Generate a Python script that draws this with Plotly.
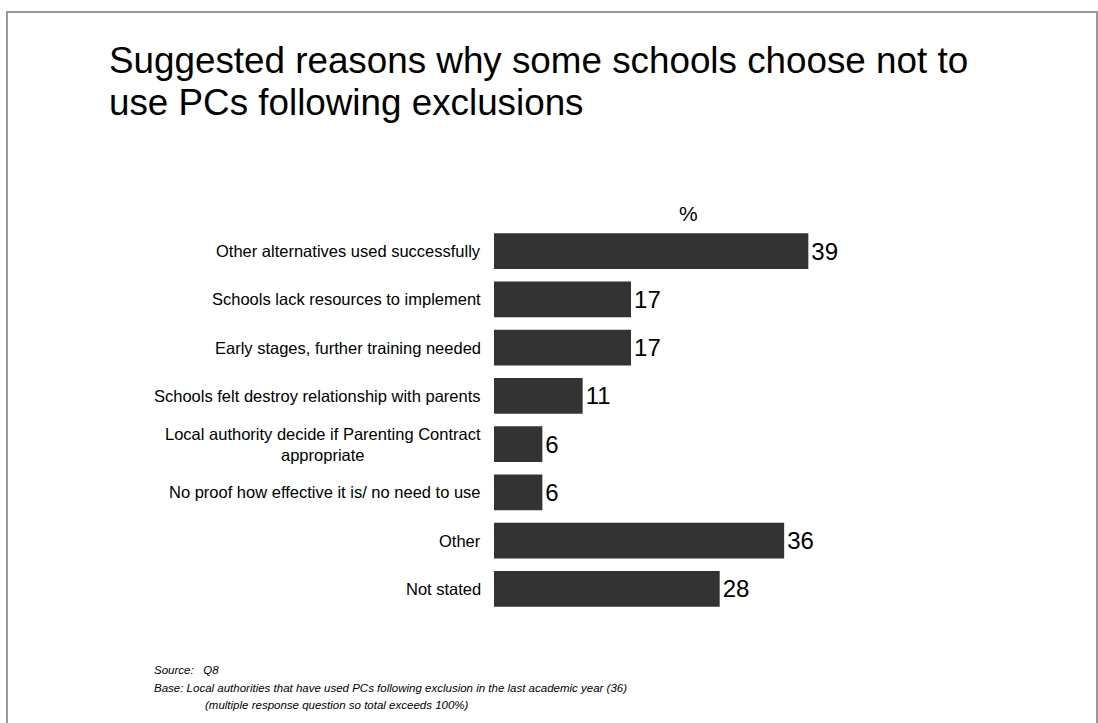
import plotly.graph_objects as go

categories = [
    "Other alternatives used successfully",
    "Schools lack resources to implement",
    "Early stages, further training needed",
    "Schools felt destroy relationship with parents",
    "Local authority decide if Parenting Contract<br>appropriate",
    "No proof how effective it is/ no need to use",
    "Other",
    "Not stated",
]
values = [39, 17, 17, 11, 6, 6, 36, 28]

title_lines = [
    "Suggested reasons why some schools choose not to",
    "use PCs following exclusions",
]

W, H = 1098, 723
FONT = "Liberation Sans, Arial, sans-serif"

def px_x(x):
    return x / W

def px_y(y):
    return 1 - y / H

fig = go.Figure()
fig.add_trace(go.Bar(
    x=values,
    y=categories,
    orientation="h",
    marker=dict(color="#333333", line=dict(width=0)),
    width=0.745,
    text=[str(v) for v in values],
    textposition="outside",
    textfont=dict(family=FONT, size=24, color="#000000"),
    cliponaxis=False,
    hoverinfo="skip",
))

annotations = []
for c in categories:
    annotations.append(dict(
        x=px_x(494), xref="paper", y=c, yref="y",
        text=c, showarrow=False, xanchor="right", yanchor="middle",
        xshift=-11, align="center",
        font=dict(family=FONT, size=16.5, color="#000000"),
    ))

for i, line in enumerate(title_lines):
    annotations.append(dict(
        x=px_x(107), y=px_y(60 + 43 * i), xref="paper", yref="paper",
        text=line, showarrow=False, xanchor="left", yanchor="middle", align="left",
        font=dict(family=FONT, size=36.8, color="#000000")))

annotations += [
    dict(x=px_x(688), y=px_y(213), xref="paper", yref="paper",
         text="%", showarrow=False, xanchor="center", yanchor="middle",
         font=dict(family=FONT, size=21, color="#000000")),
    dict(x=px_x(8), y=px_y(6), xref="paper", yref="paper",
         text="<i>Chart 10</i>", showarrow=False, xanchor="left", yanchor="bottom",
         font=dict(family=FONT, size=20, color="#000000")),
    dict(x=px_x(152), y=px_y(670), xref="paper", yref="paper",
         text="<i>Source:   Q8</i>", showarrow=False, xanchor="left", yanchor="middle",
         font=dict(family=FONT, size=11.5, color="#000000")),
    dict(x=px_x(152), y=px_y(688), xref="paper", yref="paper",
         text="<i>Base: Local authorities that have used PCs following exclusion in the last academic year (36)</i>",
         showarrow=False, xanchor="left", yanchor="middle",
         font=dict(family=FONT, size=11.5, color="#000000")),
    dict(x=px_x(203), y=px_y(705), xref="paper", yref="paper",
         text="<i>(multiple response question so total exceeds 100%)</i>",
         showarrow=False, xanchor="left", yanchor="middle",
         font=dict(family=FONT, size=11.5, color="#000000")),
]

fig.update_layout(
    width=W, height=H,
    margin=dict(l=0, r=0, t=0, b=0),
    paper_bgcolor="#ffffff", plot_bgcolor="#ffffff",
    showlegend=False,
    xaxis=dict(domain=[px_x(494), 1], range=[0, 604 / 8.06],
               visible=False, fixedrange=True),
    yaxis=dict(domain=[px_y(613), px_y(227)], type="category",
               range=[7.5, -0.5], visible=False, fixedrange=True),
    annotations=annotations,
    shapes=[dict(type="rect", xref="paper", yref="paper",
                 x0=px_x(7), x1=px_x(1097), y0=-0.05, y1=px_y(12),
                 line=dict(color="#999999", width=2), fillcolor="rgba(0,0,0,0)")],
)

fig.write_html(
    "out.html",
    config={"displayModeBar": False},
    post_script="document.body.style.margin='0';document.body.style.overflow='hidden';",
)
